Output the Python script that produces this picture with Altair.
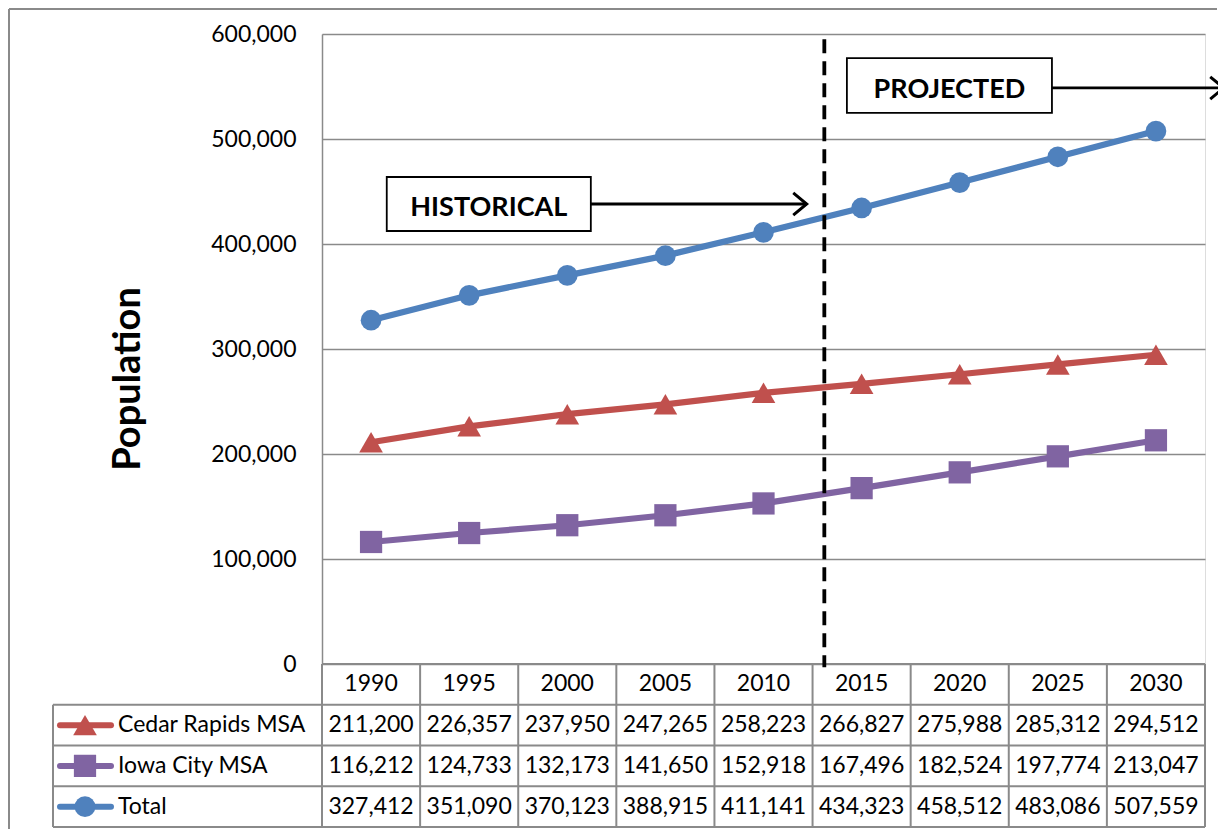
import altair as alt
import pandas as pd

# ---------------- data ----------------
years = [1990, 1995, 2000, 2005, 2010, 2015, 2020, 2025, 2030]
series_names = ["Cedar Rapids MSA", "Iowa City MSA", "Total"]
cedar_rapids = [211200, 226357, 237950, 247265, 258223, 266827, 275988, 285312, 294512]
iowa_city = [116212, 124733, 132173, 141650, 152918, 167496, 182524, 197774, 213047]
total = [327412, 351090, 370123, 388915, 411141, 434323, 458512, 483086, 507559]
series_colors = ["#C0504D", "#8064A2", "#4F81BD"]
series_shapes = ["triangle-up", "square", "circle"]
y_ticks = [0, 100000, 200000, 300000, 400000, 500000, 600000]

# annotations (in data units)
split_year = 2013.1
split_top = 595000
split_bottom = -3000
annot_labels = ["HISTORICAL", "PROJECTED"]
annot_x_start = [1990.8, 2014.25]
annot_x_end = [2001.2, 2024.7]
annot_y_top = [463800, 577100]
annot_y_bottom = [412400, 524800]
arrow_y = [438100, 548600]
arrow_end = [2012.2, 2033.45]

GRAY = "#8A8A8A"
FONT = "Lato"
W, H = 883, 630

values_by_series = [cedar_rapids, iowa_city, total]
rows = []
for i, (name, vals) in enumerate(zip(series_names, values_by_series)):
    for yr, v in zip(years, vals):
        rows.append({"year": yr, "series": name, "value": v, "row": i + 1.5})
long = pd.DataFrame(rows)

xs = alt.Scale(domain=[years[0] - 2.5, years[-1] + 2.5], nice=False, zero=False)
ys = alt.Scale(domain=[0, 600000], nice=False)
rs = alt.Scale(domain=[0, 4], range=[H, 793], nice=False, zero=False)

color = alt.Color("series:N", scale=alt.Scale(domain=series_names, range=series_colors), legend=None)
shape = alt.Shape("series:N", scale=alt.Scale(domain=series_names, range=series_shapes), legend=None)
size = alt.Size("series:N", scale=alt.Scale(domain=series_names, range=[560, 430, 470]), legend=None)

yaxis = alt.Axis(
    values=y_ticks, format=",d", labelFont=FONT, labelFontSize=23, labelColor="black",
    labelPadding=26, ticks=False, domain=True, domainColor=GRAY, domainWidth=1.5,
    grid=True, gridColor=GRAY, gridWidth=1.4,
    title="Population", titleFont=FONT, titleFontSize=38, titleFontWeight="bold",
    titleColor="black", titleAngle=270, titleX=-194, titleY=344.5,
    titleAlign="center", titleBaseline="middle",
)

lines = alt.Chart(long).mark_line(strokeWidth=6.2, strokeJoin="round").encode(
    x=alt.X("year:Q", scale=xs, axis=None),
    y=alt.Y("value:Q", scale=ys, axis=yaxis),
    color=color,
)
points = alt.Chart(long).mark_point(filled=True, opacity=1).encode(
    x=alt.X("year:Q", scale=xs, axis=None),
    y=alt.Y("value:Q", scale=ys, axis=None),
    color=color, shape=shape, size=size,
)

split_df = pd.DataFrame({"x": [split_year], "y": [split_top], "y2": [split_bottom]})
split = alt.Chart(split_df).mark_rule(color="black", strokeWidth=3.8, strokeDash=[14, 8]).encode(
    x=alt.X("x:Q", scale=xs, axis=None),
    y=alt.Y("y:Q", scale=ys, axis=None),
    y2="y2:Q",
)

annot = pd.DataFrame({
    "label": annot_labels, "x1": annot_x_start, "x2": annot_x_end,
    "yt": annot_y_top, "yb": annot_y_bottom,
    "ay": arrow_y, "ae": arrow_end,
})
annot["xc"] = (annot["x1"] + annot["x2"]) / 2
annot["ym"] = (annot["yt"] + annot["yb"]) / 2

boxes = alt.Chart(annot).mark_rect(fill="white", stroke="black", strokeWidth=1.8).encode(
    x=alt.X("x1:Q", scale=xs, axis=None), x2="x2:Q",
    y=alt.Y("yt:Q", scale=ys, axis=None), y2="yb:Q",
)
box_text = alt.Chart(annot).mark_text(font=FONT, fontSize=27, fontWeight="bold", color="black",
                                      align="center", baseline="middle", dy=4).encode(
    x=alt.X("xc:Q", scale=xs, axis=None),
    y=alt.Y("ym:Q", scale=ys, axis=None),
    text="label:N",
)
shafts = alt.Chart(annot).mark_rule(color="black", strokeWidth=2.8).encode(
    x=alt.X("x2:Q", scale=xs, axis=None), x2="ae:Q",
    y=alt.Y("ay:Q", scale=ys, axis=None),
)
heads = alt.Chart(annot).mark_point(shape="M -1.2 -1 L 0 0 L -1.2 1", filled=False, size=500,
                                    strokeWidth=3, color="black", opacity=1).encode(
    x=alt.X("ae:Q", scale=xs, axis=None),
    y=alt.Y("ay:Q", scale=ys, axis=None),
)

# ---------------- data table ----------------
header = pd.DataFrame({"year": years, "row": [0.5] * len(years)})
header_text = alt.Chart(header).mark_text(font=FONT, fontSize=23, color="black", baseline="middle").encode(
    x=alt.X("year:Q", scale=xs, axis=None),
    y=alt.Y("row:Q", scale=rs, axis=None),
    text=alt.Text("year:Q", format="d"),
)
cell_text = alt.Chart(long).mark_text(font=FONT, fontSize=23, color="black", baseline="middle").encode(
    x=alt.X("year:Q", scale=xs, axis=None),
    y=alt.Y("row:Q", scale=rs, axis=None),
    text=alt.Text("value:Q", format=",d"),
)
legend_df = pd.DataFrame({"series": series_names, "row": [1.5, 2.5, 3.5]})
legend_text = alt.Chart(legend_df).mark_text(font=FONT, fontSize=23, color="black", align="left",
                                             baseline="middle").encode(
    x=alt.value(-204),
    y=alt.Y("row:Q", scale=rs, axis=None),
    text="series:N",
)
legend_line = alt.Chart(legend_df).mark_rule(strokeWidth=6, strokeCap="round").encode(
    x=alt.value(-262), x2=alt.value(-211),
    y=alt.Y("row:Q", scale=rs, axis=None),
    color=color,
)
legend_mark = alt.Chart(legend_df).mark_point(filled=True, opacity=1).encode(
    x=alt.value(-237),
    y=alt.Y("row:Q", scale=rs, axis=None),
    color=color, shape=shape,
    size=alt.Size("series:N", scale=alt.Scale(domain=series_names, range=[400, 320, 330]), legend=None),
)

hlines = alt.Chart(pd.DataFrame({"row": [1, 2, 3, 4]})).mark_rule(color=GRAY, strokeWidth=2).encode(
    x=alt.value(-269), x2=alt.value(W),
    y=alt.Y("row:Q", scale=rs, axis=None),
)
bounds = [y - 2.5 for y in years] + [years[-1] + 2.5]
vlines = alt.Chart(pd.DataFrame({"b": bounds, "r0": [0] * len(bounds), "r1": [4] * len(bounds)})).mark_rule(
    color=GRAY, strokeWidth=2).encode(
    x=alt.X("b:Q", scale=xs, axis=None),
    y=alt.Y("r0:Q", scale=rs, axis=None), y2="r1:Q",
)
left_line = alt.Chart(pd.DataFrame({"r0": [1], "r1": [4]})).mark_rule(color=GRAY, strokeWidth=2).encode(
    x=alt.value(-269),
    y=alt.Y("r0:Q", scale=rs, axis=None), y2="r1:Q",
)
top_line = alt.Chart(pd.DataFrame({"r0": [0]})).mark_rule(color=GRAY, strokeWidth=2).encode(
    x=alt.value(0), x2=alt.value(W),
    y=alt.Y("r0:Q", scale=rs, axis=None),
)

# outer chart border (top and left)
outer_top = alt.Chart(pd.DataFrame({"a": [0]})).mark_rule(color=GRAY, strokeWidth=2).encode(
    x=alt.value(-313), x2=alt.value(W + 12), y=alt.value(-25),
)
outer_left = alt.Chart(pd.DataFrame({"a": [0]})).mark_rule(color=GRAY, strokeWidth=2).encode(
    x=alt.value(-313), y=alt.value(-25), y2=alt.value(795),
)

chart = alt.layer(
    outer_top, outer_left,
    hlines, vlines, left_line, top_line,
    lines, points,
    boxes, box_text, shafts, heads, split,
    header_text, cell_text, legend_text, legend_line, legend_mark,
).resolve_scale(y="independent").properties(
    width=W, height=H,
    autosize=alt.AutoSizeParams(type="none"),
    padding={"left": 314, "top": 26, "right": 13, "bottom": 165},
).configure_view(stroke=None).configure(background="white")

chart.save("out.html", embed_options={"renderer": "svg", "actions": False})
